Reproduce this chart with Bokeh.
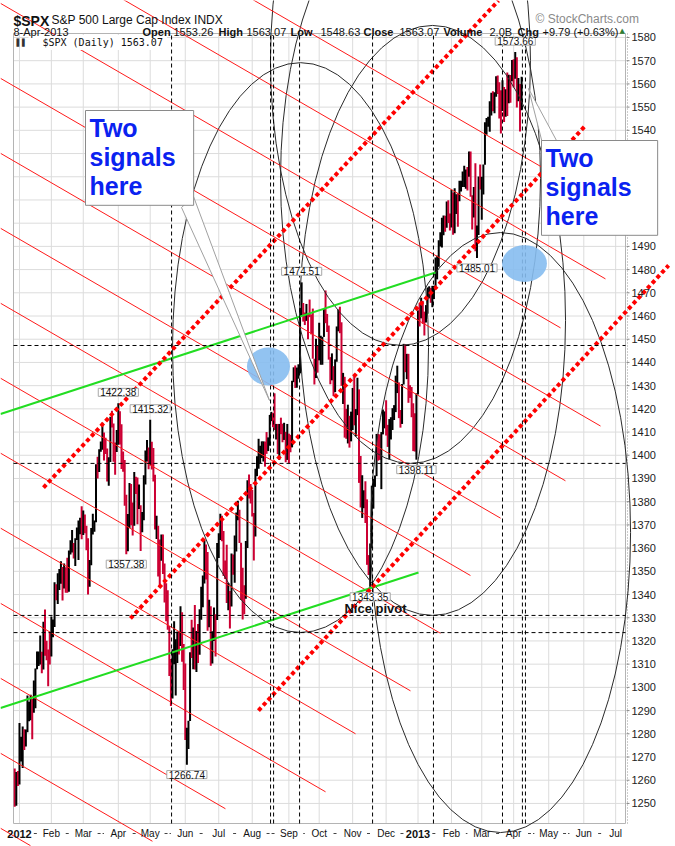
import numpy as np
import pandas as pd
from bokeh.plotting import figure
from bokeh.models import Label
from bokeh.embed import file_html
from bokeh.resources import INLINE

# ---------------- data: $SPX daily bars (28-Dec-2011 .. 8-Apr-2013) ----------------
prior_close = 1265.4
bar_close = [
    1249.6, 1263.0, 1257.6,
    1277.1, 1277.3, 1281.1, 1277.8, 1280.7, 1292.1, 1292.5, 1295.5, 1289.1, 1293.7, 1308.0, 1314.5, 1315.4, 1316.0, 1314.7, 1326.1, 1318.4, 1316.3, 1313.0, 1312.4,
    1324.1, 1325.5, 1344.9, 1344.3, 1347.1, 1350.0, 1352.0, 1342.6, 1351.8, 1350.5, 1343.2, 1358.0, 1361.2, 1362.2, 1357.7, 1363.5, 1365.7, 1367.6, 1372.2, 1365.7,
    1374.1, 1369.6, 1364.3, 1343.4, 1352.6, 1365.9, 1370.9, 1371.1, 1396.0, 1394.3, 1402.6, 1404.2, 1409.8, 1405.5, 1402.9, 1392.8, 1397.1, 1416.5, 1412.5, 1405.5, 1403.3, 1408.5,
    1419.0, 1413.4, 1399.0, 1398.1, 1382.2, 1358.6, 1368.7, 1387.6, 1370.3, 1369.6, 1390.8, 1385.1, 1376.9, 1378.5, 1366.9, 1372.0, 1390.7, 1400.0, 1403.4, 1397.9,
    1405.8, 1402.3, 1391.6, 1369.1, 1369.6, 1363.7, 1354.6, 1358.0, 1353.4, 1338.4, 1330.7, 1324.8, 1304.9, 1295.2, 1316.0, 1316.6, 1318.9, 1320.7, 1317.8, 1332.4, 1313.3, 1310.3,
    1278.0, 1278.2, 1285.5, 1315.1, 1315.0, 1325.7, 1308.9, 1324.2, 1314.9, 1329.1, 1342.8, 1344.8, 1358.0, 1355.7, 1325.5, 1335.0, 1313.7, 1320.0, 1331.9, 1329.0, 1362.2,
    1365.5, 1374.0, 1367.6, 1354.7, 1352.5, 1341.5, 1341.5, 1334.8, 1356.8, 1353.6, 1363.7, 1372.8, 1376.5, 1362.7, 1350.5, 1338.3, 1337.9, 1360.0, 1386.0, 1385.3, 1379.3,
    1375.3, 1365.0, 1391.0, 1394.2, 1401.4, 1402.2, 1402.8, 1405.9, 1404.1, 1403.9, 1405.5, 1415.5, 1418.2, 1418.1, 1413.5, 1413.5, 1402.1, 1411.1, 1410.4, 1409.3, 1410.5, 1399.5, 1406.6,
    1404.9, 1403.4, 1432.1, 1437.9, 1429.1, 1433.6, 1436.6, 1460.0, 1465.8, 1461.2, 1459.3, 1461.1, 1460.3, 1460.2, 1456.9, 1441.6, 1433.3, 1447.2, 1440.7,
    1444.5, 1445.8, 1451.0, 1461.4, 1460.9, 1455.9, 1441.5, 1432.6, 1432.8, 1428.6, 1440.1, 1454.9, 1460.9, 1457.3, 1433.2, 1433.8, 1413.1, 1408.8, 1413.0, 1411.9, 1412.2,
    1427.6, 1414.2, 1417.3, 1428.4, 1394.5, 1377.5, 1380.0, 1380.0, 1374.5, 1355.5, 1353.3, 1359.9, 1386.9, 1387.8, 1391.0, 1409.2, 1406.3, 1398.9, 1409.9, 1416.0, 1416.2,
    1409.5, 1407.1, 1409.3, 1413.9, 1418.1, 1418.6, 1427.8, 1428.5, 1419.5, 1413.6, 1430.4, 1446.8, 1435.8, 1443.7, 1430.2, 1426.7, 1419.8, 1418.1, 1402.4, 1426.2,
    1462.4, 1459.4, 1466.5, 1461.9, 1457.2, 1461.0, 1472.1, 1472.1, 1470.7, 1472.3, 1472.6, 1480.9, 1486.0, 1492.6, 1494.8, 1494.8, 1503.0, 1500.2, 1507.8, 1502.0, 1498.1,
    1513.2, 1495.7, 1511.3, 1512.1, 1509.4, 1517.9, 1518.0, 1519.4, 1520.3, 1521.4, 1519.8, 1530.9, 1512.0, 1502.4, 1515.6, 1487.9, 1496.9, 1516.0, 1514.7,
    1518.2, 1525.2, 1539.8, 1541.5, 1544.3, 1551.2, 1556.2, 1552.5, 1554.5, 1563.2, 1560.7, 1552.1, 1548.3, 1558.7, 1545.8, 1556.9, 1551.7, 1563.8, 1562.9, 1569.2,
    1562.2, 1570.3, 1553.7, 1560.0, 1553.3, 1563.1,
]
bar_high = [
    1265.0, 1263.5, 1264.0,
    1284.6, 1278.7, 1283.1, 1282.0, 1281.8, 1296.5, 1293.8, 1296.8, 1295.0, 1303.0, 1308.1, 1315.5, 1315.5, 1322.3, 1315.4, 1328.3, 1333.5, 1320.1, 1316.3, 1324.0,
    1330.5, 1329.2, 1345.3, 1344.4, 1349.2, 1351.0, 1354.3, 1351.9, 1353.4, 1351.8, 1355.9, 1359.0, 1363.4, 1367.8, 1362.2, 1364.2, 1368.9, 1371.9, 1373.1, 1378.0,
    1376.2, 1374.5, 1369.6, 1364.3, 1354.9, 1368.7, 1374.8, 1371.9, 1396.1, 1399.4, 1402.6, 1405.9, 1414.0, 1409.8, 1407.5, 1402.9, 1399.2, 1416.6, 1419.2, 1413.7, 1405.5, 1410.9,
    1422.4, 1419.0, 1413.4, 1401.6, 1398.0, 1383.0, 1374.7, 1388.1, 1387.6, 1379.7, 1392.8, 1390.8, 1390.4, 1387.4, 1378.5, 1375.6, 1391.4, 1402.1, 1406.6, 1403.4,
    1415.3, 1405.8, 1403.1, 1391.6, 1373.9, 1369.6, 1363.7, 1365.9, 1365.9, 1353.4, 1344.9, 1341.8, 1326.4, 1312.2, 1316.4, 1328.5, 1320.7, 1324.1, 1324.2, 1334.9, 1332.4, 1318.7,
    1310.3, 1282.6, 1285.6, 1315.1, 1329.1, 1325.8, 1335.5, 1324.3, 1327.3, 1333.7, 1343.3, 1348.2, 1363.5, 1361.6, 1358.3, 1337.8, 1335.0, 1324.2, 1334.4, 1331.5, 1362.2,
    1366.4, 1374.8, 1373.9, 1367.4, 1354.7, 1361.5, 1345.0, 1341.5, 1357.7, 1357.3, 1365.4, 1375.3, 1380.4, 1376.5, 1362.3, 1351.5, 1344.0, 1363.1, 1389.2, 1391.7, 1387.6,
    1385.0, 1375.1, 1394.2, 1399.6, 1407.1, 1404.1, 1406.0, 1406.0, 1405.9, 1410.0, 1407.7, 1417.4, 1418.7, 1418.2, 1426.7, 1413.5, 1413.5, 1413.5, 1416.2, 1413.6, 1414.0, 1410.1, 1413.5,
    1409.3, 1408.8, 1432.1, 1437.9, 1438.7, 1437.8, 1439.2, 1463.5, 1474.5, 1465.6, 1461.5, 1465.2, 1461.1, 1467.1, 1460.7, 1463.2, 1441.6, 1450.2, 1447.2,
    1457.1, 1451.5, 1451.0, 1463.1, 1471.0, 1460.9, 1455.9, 1442.3, 1443.9, 1438.4, 1441.3, 1455.5, 1462.8, 1464.0, 1457.3, 1435.5, 1433.8, 1420.0, 1421.8, 1417.0, 1418.8,
    1429.0, 1434.3, 1419.9, 1433.4, 1428.4, 1399.7, 1391.4, 1384.9, 1388.8, 1381.0, 1357.0, 1362.0, 1386.9, 1389.8, 1391.3, 1409.2, 1409.2, 1409.0, 1410.0, 1419.7, 1418.9,
    1423.7, 1413.1, 1415.6, 1416.4, 1420.3, 1421.6, 1434.3, 1438.6, 1431.4, 1419.5, 1430.7, 1448.0, 1447.8, 1443.7, 1443.7, 1430.2, 1429.4, 1422.4, 1418.1, 1426.7,
    1462.4, 1465.5, 1467.9, 1466.5, 1461.9, 1464.7, 1472.3, 1472.8, 1472.1, 1473.0, 1473.0, 1485.2, 1486.0, 1492.6, 1496.1, 1502.3, 1503.3, 1503.2, 1509.3, 1509.9, 1504.2,
    1514.4, 1513.2, 1515.0, 1512.5, 1512.9, 1518.3, 1518.3, 1522.3, 1524.7, 1523.1, 1524.2, 1530.9, 1530.9, 1512.0, 1515.6, 1525.8, 1499.0, 1520.1, 1525.3,
    1520.0, 1525.3, 1543.5, 1545.3, 1545.8, 1552.5, 1556.2, 1556.8, 1556.4, 1563.3, 1563.6, 1560.7, 1557.3, 1561.6, 1558.7, 1557.7, 1564.9, 1564.0, 1563.8, 1570.3,
    1570.6, 1573.7, 1571.5, 1562.6, 1560.0, 1563.1,
]
bar_low = [
    1248.6, 1249.0, 1257.5,
    1258.1, 1268.1, 1265.3, 1273.0, 1274.5, 1280.7, 1285.4, 1285.8, 1277.6, 1289.1, 1291.0, 1307.8, 1309.2, 1309.9, 1306.1, 1307.7, 1313.6, 1311.7, 1300.5, 1309.9,
    1313.3, 1321.6, 1326.0, 1337.5, 1335.9, 1341.9, 1344.6, 1337.4, 1342.6, 1340.8, 1340.8, 1341.2, 1357.2, 1358.1, 1355.5, 1352.3, 1363.5, 1354.9, 1366.0, 1363.8,
    1365.7, 1366.4, 1359.1, 1340.0, 1343.4, 1352.6, 1365.9, 1367.0, 1371.1, 1390.0, 1392.8, 1401.5, 1402.4, 1397.7, 1400.6, 1388.7, 1386.9, 1397.1, 1412.0, 1397.2, 1391.6, 1401.4,
    1404.5, 1404.6, 1394.1, 1392.9, 1378.2, 1357.4, 1358.6, 1368.7, 1369.9, 1365.4, 1369.6, 1383.3, 1370.3, 1376.9, 1358.8, 1366.8, 1372.0, 1387.4, 1397.3, 1394.0,
    1395.7, 1393.9, 1388.7, 1368.0, 1363.9, 1347.8, 1343.1, 1354.6, 1348.9, 1336.6, 1328.5, 1324.8, 1304.9, 1292.0, 1295.2, 1310.0, 1296.5, 1310.5, 1314.2, 1317.8, 1311.0, 1298.9,
    1277.3, 1266.7, 1273.4, 1285.5, 1312.7, 1307.8, 1307.7, 1306.6, 1310.5, 1314.1, 1329.1, 1334.5, 1344.8, 1346.5, 1324.4, 1325.9, 1309.3, 1310.3, 1320.0, 1313.3, 1329.0,
    1355.7, 1363.5, 1363.0, 1348.0, 1346.7, 1336.3, 1333.2, 1325.4, 1334.8, 1348.5, 1345.1, 1358.5, 1372.0, 1362.2, 1337.6, 1329.2, 1331.5, 1338.2, 1360.0, 1381.4, 1379.2,
    1373.6, 1354.7, 1365.0, 1391.0, 1394.2, 1396.6, 1398.8, 1397.3, 1395.1, 1400.6, 1401.8, 1404.1, 1414.7, 1412.1, 1410.9, 1406.8, 1400.5, 1398.0, 1409.1, 1405.6, 1406.6, 1397.0, 1398.0,
    1396.6, 1401.3, 1403.4, 1431.5, 1429.0, 1429.1, 1433.0, 1435.3, 1460.1, 1457.6, 1456.1, 1457.9, 1450.0, 1459.5, 1452.1, 1441.6, 1430.5, 1433.3, 1435.6,
    1440.9, 1439.0, 1439.0, 1451.0, 1456.9, 1453.1, 1441.2, 1430.6, 1432.3, 1425.5, 1427.2, 1440.3, 1453.4, 1452.6, 1429.9, 1422.1, 1407.6, 1407.1, 1405.1, 1403.3, 1406.0,
    1410.9, 1412.9, 1408.1, 1417.3, 1388.1, 1377.5, 1373.0, 1377.2, 1370.8, 1352.8, 1348.4, 1343.4, 1359.9, 1377.0, 1386.4, 1391.0, 1397.7, 1398.0, 1385.4, 1409.0, 1411.6,
    1408.5, 1403.6, 1398.2, 1406.8, 1410.9, 1415.2, 1418.6, 1426.8, 1416.0, 1411.9, 1413.5, 1430.5, 1435.8, 1432.8, 1422.6, 1424.7, 1416.4, 1401.8, 1401.6, 1398.1,
    1426.2, 1455.5, 1459.0, 1456.6, 1451.6, 1457.2, 1461.0, 1467.6, 1465.7, 1463.8, 1467.3, 1472.6, 1475.8, 1481.2, 1489.9, 1489.5, 1494.8, 1496.3, 1498.0, 1500.1, 1496.8,
    1498.1, 1495.0, 1495.7, 1504.0, 1498.5, 1509.4, 1513.6, 1515.6, 1515.6, 1514.8, 1514.1, 1520.0, 1511.4, 1497.3, 1502.4, 1487.9, 1485.0, 1494.9, 1514.5,
    1501.5, 1512.3, 1525.2, 1538.1, 1541.5, 1539.4, 1546.4, 1548.2, 1547.4, 1554.5, 1555.7, 1545.1, 1538.6, 1548.3, 1543.6, 1545.8, 1546.2, 1551.7, 1551.9, 1561.1,
    1558.5, 1562.2, 1549.8, 1552.5, 1539.5, 1548.6,
]

market_holidays = ["2012-01-02", "2012-01-16", "2012-02-20", "2012-04-06", "2012-05-28", "2012-07-04",
                   "2012-09-03", "2012-10-29", "2012-10-30", "2012-11-22", "2012-12-25", "2013-01-01",
                   "2013-01-21", "2013-02-18", "2013-03-29", "2013-05-27", "2013-07-04"]
month_names = ["2012", "Feb", "Mar", "Apr", "May", "Jun", "Jul", "Aug", "Sep", "Oct", "Nov", "Dec",
               "2013", "Feb", "Mar", "Apr", "May", "Jun", "Jul"]
price_ticks = list(range(1250, 1581, 10))

# annotated highs / lows (trading-day index, price, side)
mark_idx = [65, 85, 70, 108, 180, 223, 252, 290, 314]
mark_price = [1422.38, 1415.32, 1357.38, 1266.74, 1474.51, 1343.35, 1398.11, 1485.01, 1573.66]
mark_side = ["above", "above", "below", "below", "above", "below", "below", "below", "above"]

# drawing tools (x in trading-day index, y in price)
fan_x0 = -8.9
fan_y0 = [1659.3, 1627.0, 1594.7, 1562.4, 1530.1, 1497.8, 1465.5, 1433.2, 1400.9, 1368.6, 1336.2, 1303.9, 1271.6, 1239.3]
fan_x1 = [367.5, 370.6, 342.4, 367.5, 345.5, 304.8, 285.9, 267.1, 248.3, 213.8, 195.0, 132.2, 86.4, 9.9]
fan_y1 = [1509.5, 1476.0, 1454.9, 1412.6, 1389.0, 1372.9, 1348.2, 1323.3, 1298.5, 1280.0, 1255.0, 1247.7, 1233.7, 1231.8]

chan_x0 = [18.06, 72.6, 152.9]
chan_y0 = [1386.1, 1329.7, 1290.0]
chan_x1 = [303.5, 358.1, 410.2]
chan_y1 = [1595.9, 1542.1, 1481.8]

green_x0 = [-8.9, -8.9]
green_y0 = [1417.8, 1291.1]
green_x1 = [264.0, 253.3]
green_y1 = [1478.75, 1349.5]

vline_idx = [98.4, 160.5, 162.4, 178.7, 224.5, 262.7, 306.0, 318.5, 320.4]
hline_price = [1447.3, 1396.5, 1331.0, 1323.6]

ell_x = [179.3, 242.0, 248.3, 262.1, 304.8]
ell_y = [1446.4, 1570.1, 1519.3, 1458.1, 1366.7]
ell_w = [160.6, 163.1, 163.1, 166.9, 163.1]
ell_h = [245.6, 245.6, 245.6, 254.2, 258.5]

spot_x = [159.2, 319.8]
spot_y = [1438.25, 1482.6]
spot_w = [27.0, 28.2]
spot_h = [16.4, 15.9]

# ---------------- layout helpers (page pixels -> data) ----------------
W, H = 675, 846
X_LO, X_HI = -0.76, 383.17        # price panel, left/right
Y_LO, Y_HI = 1241.35, 1581.72     # price panel, bottom/top
FL, FR, FT, FB = 13, 625, 33, 823


def sx(px):
    return X_LO + (px - FL) * (X_HI - X_LO) / (FR - FL)


def sy(py):
    return Y_HI - (py - FT) * (Y_HI - Y_LO) / (FB - FT)


cal = pd.bdate_range("2011-12-28", "2013-07-31")
cal = cal[~cal.isin(pd.to_datetime(market_holidays))]
month_idx = [i for i in range(1, len(cal)) if cal[i].month != cal[i - 1].month]

x = np.arange(len(bar_close))
prev = [prior_close] + bar_close[:-1]
colors = ["#000000" if c >= pc else "#cc0033" for c, pc in zip(bar_close, prev)]

p = figure(width=W, height=H, output_backend="svg", toolbar_location=None,
           x_range=(sx(0), sx(W)), y_range=(sy(H), sy(0)),
           x_axis_location=None, y_axis_location=None, min_border=0,
           background_fill_color="white", border_fill_color="white")
p.outline_line_color = None
p.grid.visible = False

# grid
n = len(price_ticks)
p.segment(x0=[X_LO] * n, y0=price_ticks, x1=[X_HI] * n, y1=price_ticks, line_color="#dcdcdc", line_width=1)
m = len(month_idx)
p.segment(x0=month_idx, y0=[Y_LO] * m, x1=month_idx, y1=[Y_HI] * m, line_color="#dcdcdc", line_width=1)
p.quad(left=[X_LO], right=[X_HI], bottom=[Y_LO], top=[Y_HI], fill_color=None, line_color="#b4b4b4")

# right price axis
p.segment(x0=[sx(627)], y0=[Y_LO], x1=[sx(627)], y1=[Y_HI], line_color="#999999", line_dash="1 2")
p.segment(x0=[sx(626)] * n, y0=price_ticks, x1=[sx(629)] * n, y1=price_ticks, line_color="#888888")

# price bars
p.segment(x0=x, y0=bar_low, x1=x, y1=bar_high, line_color=colors, line_width=2)

# ellipses
p.ellipse(x=ell_x, y=ell_y, width=ell_w, height=ell_h, fill_color=None, line_color="#2a2a2a", line_width=1)

# parallel red lines
p.segment(x0=[fan_x0] * len(fan_y0), y0=fan_y0, x1=fan_x1, y1=fan_y1, line_color="#ff1a1a", line_width=1)

# green lines
p.segment(x0=green_x0, y0=green_y0, x1=green_x1, y1=green_y1, line_color="#22dd22", line_width=2)

# dotted channel
p.segment(x0=chan_x0, y0=chan_y0, x1=chan_x1, y1=chan_y1, line_color="#ff0000", line_width=4, line_dash="4 3")

# dashed reference lines
k = len(vline_idx)
p.segment(x0=vline_idx, y0=[Y_LO] * k, x1=vline_idx, y1=[Y_HI] * k, line_color="black", line_dash="4 3")
k = len(hline_price)
p.segment(x0=[X_LO] * k, y0=hline_price, x1=[X_HI] * k, y1=hline_price, line_color="black", line_dash="4 3")

# blue spots
p.ellipse(x=spot_x, y=spot_y, width=spot_w, height=spot_h, fill_color="#86bdf0", fill_alpha=0.9, line_color=None)

# callout pointers
p.patch(x=[sx(181), sx(193), sx(269)], y=[sy(207), sy(196), sy(400)], fill_color="white",
        line_color="#a0a0a0", line_width=1)
p.patch(x=[sx(543), sx(556), sx(528)], y=[sy(147), sy(140), sy(88)], fill_color="white",
        line_color="#a0a0a0", line_width=1)

# month dashes along the bottom (drawn before the labels)
for a, b in zip(month_idx[:-1], month_idx[1:]):
    p.segment(x0=[a + 9], y0=[sy(833)], x1=[b - 9], y1=[sy(833)], line_color="#444444", line_dash="3 2")

# price axis labels (under the callout box)
for t in price_ticks:
    p.add_layout(Label(x=sx(631), y=t, text=str(t), text_baseline="middle", text_align="left",
                       text_font="Liberation Sans", text_font_size="11px", text_color="#222222"))

# high / low value tags
for i, pr, side in zip(mark_idx, mark_price, mark_side):
    above = side == "above"
    p.add_layout(Label(x=i, y=pr, text=f"{pr:.2f}", text_align="center",
                       text_baseline="bottom" if above else "top",
                       y_offset=7 if above else -6,
                       text_font="Liberation Sans", text_font_size="10px", text_color="#111111",
                       background_fill_color="white", border_line_color="#a8a8a8",
                       padding=dict(left=2, right=2, top=0, bottom=0)))

p.add_layout(Label(x=sx(375), y=sy(608), text="Nice pivot", text_align="center", text_baseline="middle",
                   text_font="Liberation Sans", text_font_style="bold", text_font_size="13px",
                   text_color="#111111"))

# callout boxes
CALL_TXT = "Two\nsignals\nhere"
for (bx, by, rp) in [(85, 110, 18), (541, 140, 26)]:
    common = dict(x=sx(bx), y=sy(by), text=CALL_TXT, text_baseline="top", text_align="left",
                  text_font="Liberation Sans", text_font_style="bold", text_font_size="25px",
                  text_line_height=1.05, padding=dict(left=4, right=rp, top=3, bottom=5))
    p.add_layout(Label(**common, text_alpha=0.0, background_fill_color="#b4b4b4", x_offset=4, y_offset=-4))
    p.add_layout(Label(**common, text_color="#0a22f0", background_fill_color="white",
                       border_line_color="#8a8a8a", border_line_width=1))

# legend in plot
p.add_layout(Label(x=sx(28), y=sy(42), text="$SPX (Daily) 1563.07", text_baseline="middle",
                   text_font="DejaVu Sans Mono", text_font_size="10px", text_color="#111111",
                   background_fill_color="white", padding=dict(left=14, right=4, top=2, bottom=2)))
p.add_layout(Label(x=sx(16), y=sy(42), text="\u258c\u258c", text_baseline="middle",
                   text_font="DejaVu Sans", text_font_size="7px", text_color="#333333"))

# header
hdr = dict(text_font="Liberation Sans", text_color="#111111", text_baseline="alphabetic")
p.add_layout(Label(x=sx(13), y=sy(20), text="$SPX", text_font_style="bold", text_font_size="14px", **hdr))
p.add_layout(Label(x=sx(51), y=sy(19), text="S&P 500 Large Cap Index  INDX", text_font_size="12px", **hdr))
p.add_layout(Label(x=sx(535), y=sy(18), text="\u00a9 StockCharts.com", text_font="Liberation Sans",
                   text_font_size="12px", text_color="#8a8a8a", text_baseline="alphabetic"))
p.add_layout(Label(x=sx(13), y=sy(31), text="8-Apr-2013", text_font_size="11px", **hdr))
quote_items = [(142, "Open", True), (173, "1553.26", False), (218, "High", True), (246, "1563.07", False),
               (290, "Low", True), (320, "1548.63", False), (363, "Close", True), (399, "1563.07", False),
               (443, "Volume", True), (489, "2.0B", False), (517, "Chg", True),
               (542, "+9.79 (+0.63%)", False)]
for px, t, b in quote_items:
    p.add_layout(Label(x=sx(px), y=sy(31), text=t, text_font_size="11px",
                       text_font_style="bold" if b else "normal", **hdr))
p.add_layout(Label(x=sx(619), y=sy(30), text="\u25b2", text_font="DejaVu Sans", text_font_size="7px",
                   text_color="#2e7d32", text_baseline="alphabetic"))

# month labels along the bottom
for mi, name in zip(month_idx, month_names):
    is_year = name.isdigit()
    p.add_layout(Label(x=mi, y=sy(833), text=name, text_align="center", text_baseline="middle",
                       text_font="Liberation Sans", text_font_size="11px" if is_year else "10px",
                       text_font_style="bold" if is_year else "normal", text_color="#111111"))

open("out.html", "w").write(file_html(p, INLINE, title="SPX"))
